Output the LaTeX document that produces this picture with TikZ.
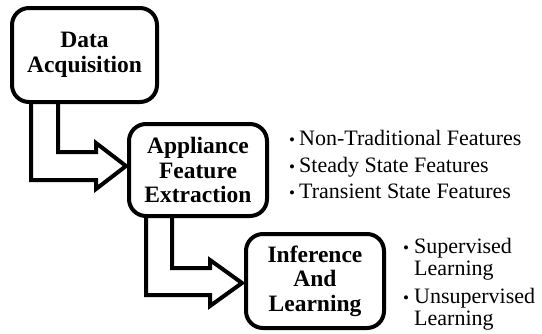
\documentclass[tikz,border=0pt]{standalone}
\usepackage{fontspec}
\setmainfont{Liberation Serif}[Ligatures=TeX]
\newfontfamily\tms{Liberation Serif}
\begin{document}
\begin{tikzpicture}[x=1pt,y=-1pt,
  box/.style={draw=black,line width=4pt,rounded corners=17pt,align=center,inner sep=0pt,
    font={\tms\fontsize{23.5}{24.5}\selectfont\bfseries}},
  bent/.style={draw=black,line width=4pt,line join=miter},
  item/.style={anchor=base west,inner sep=0pt,font={\tms\fontsize{22}{22}\selectfont}},
  dot/.style={anchor=base,inner sep=0pt,font={\tms\fontsize{17}{17}\selectfont}}]
\useasboundingbox[fill=white] (0,0) rectangle (542,333);
% boxes
\node[box,minimum width=145pt,minimum height=94pt] (b1) at (84.5,55) {Data\\Acquisition};
\node[box,minimum width=138pt,minimum height=92pt] (b2) at (198,170) {Appliance\\Feature\\Extraction};
\node[box,minimum width=138pt,minimum height=94pt] (b3) at (315,281) {Inference\\And\\Learning};
% bent hollow arrows
\draw[bent] (31,102) -- (31,180) -- (96,180) -- (96,189) -- (126,166) -- (96,143) -- (96,152) -- (58,152) -- (58,102);
\draw[bent] (146,216) -- (146,295) -- (210,295) -- (210,306) -- (242,283) -- (210,260) -- (210,268) -- (172,268) -- (172,216);
% feature list
\node[dot] (d1) at (292,145) {•};
\node[item] (t1) at (299,145) {Non-Traditional Features};
\node[dot] (d2) at (292,172) {•};
\node[item] (t2) at (299,172) {Steady State Features};
\node[dot] (d3) at (292,198) {•};
\node[item] (t3) at (299,198) {Transient State Features};
% learning list
\node[dot] (d4) at (406,253) {•};
\node[item] (t4) at (414,253) {Supervised};
\node[item] (t4b) at (414,275) {Learning};
\node[dot] (d5) at (406,303) {•};
\node[item] (t5) at (414,303) {Unsupervised};
\node[item] (t5b) at (414,325) {Learning};
\end{tikzpicture}
\end{document}
